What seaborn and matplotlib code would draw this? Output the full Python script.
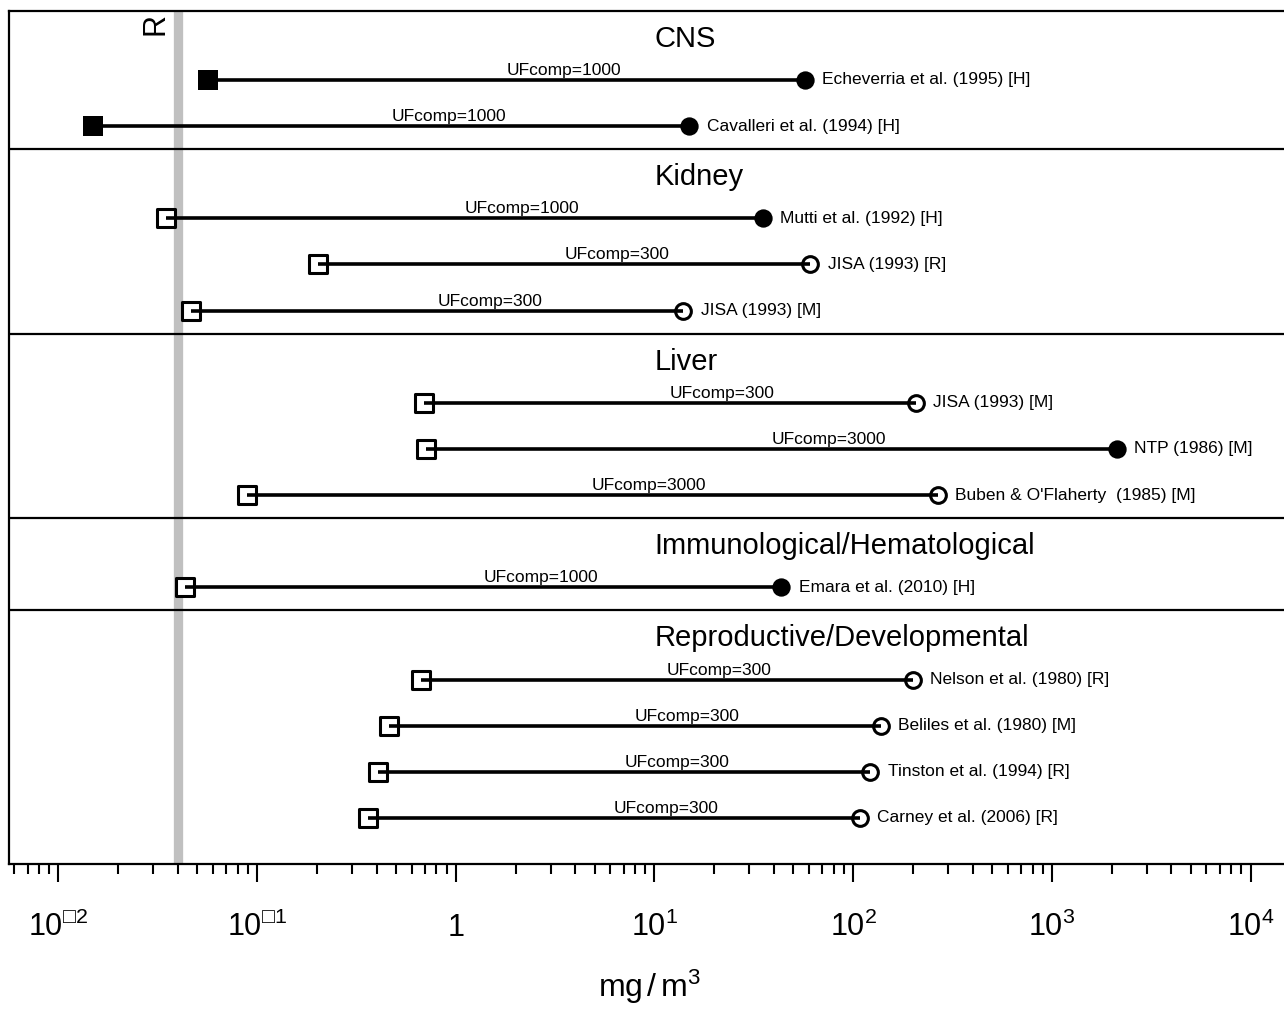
import numpy as np
import pandas as pd
import matplotlib
matplotlib.use("Agg")
import matplotlib.pyplot as plt
import seaborn as sns
from matplotlib.ticker import FixedLocator, LogLocator, NullFormatter

# ---- data -------------------------------------------------------------
groups = ["CNS", "Kidney", "Liver", "Immunological/Hematological",
          "Reproductive/Developmental"]
group_sizes = [2, 3, 3, 1, 4]
studies = ["Echeverria et al. (1995) [H]", "Cavalleri et al. (1994) [H]",
           "Mutti et al. (1992) [H]", "JISA (1993) [R]", "JISA (1993) [M]",
           "JISA (1993) [M]", "NTP (1986) [M]", "Buben & O'Flaherty  (1985) [M]",
           "Emara et al. (2010) [H]",
           "Nelson et al. (1980) [R]", "Beliles et al. (1980) [M]",
           "Tinston et al. (1994) [R]", "Carney et al. (2006) [R]"]
# point of departure (mg/m3) and composite uncertainty factor
pod = [57, 15, 35, 61, 14, 207, 2130, 266, 43.5, 200, 138, 122, 108]
uf_comp = [1000, 1000, 1000, 300, 300, 300, 3000, 3000, 1000, 300, 300, 300, 300]
pod_is_loael = [True, True, True, False, False, False, True, False, True,
                False, False, False, False]
crfc_filled = [True, True, False, False, False, False, False, False, False,
               False, False, False, False]
rfc = 0.04
rfc_label = "R"
tick_values = [1e-2, 1e-1, 1, 1e1, 1e2, 1e3, 1e4]
tick_labels = ["$10^{\u25a12}$", "$10^{\u25a11}$", "$1$", "$10^{1}$",
               "$10^{2}$", "$10^{3}$", "$10^{4}$"]

# ---- layout of rows: one header slot per group, then its studies --------
header_y, row_y = [], []
slot = 0
for n in group_sizes:
    header_y.append(slot)
    row_y.extend(range(slot + 1, slot + 1 + n))
    slot += n + 1
sep_y = [h - 0.5 for h in header_y[1:]]

df = pd.DataFrame({"study": studies, "pod": pod, "uf": uf_comp,
                   "loael": pod_is_loael, "cfill": crfc_filled, "y": row_y})
df["crfc"] = df["pod"] / df["uf"]

# ---- style --------------------------------------------------------------
sns.set_theme(style="white")
plt.rcParams["font.family"] = ["Liberation Sans", "DejaVu Sans"]
plt.rcParams["mathtext.fontset"] = "custom"
plt.rcParams["mathtext.rm"] = "Liberation Sans"
plt.rcParams["mathtext.it"] = "Liberation Sans:italic"
plt.rcParams["mathtext.bf"] = "Liberation Sans:bold"

W_PX, H_PX = 1284, 1010
fig = plt.figure(figsize=(W_PX / 100, H_PX / 100), dpi=100)
left_px, right_px, top_px, bot_px = 9.3, 1290, 10.7, 864
ax = fig.add_axes([left_px / W_PX, 1 - bot_px / H_PX,
                   (right_px - left_px) / W_PX, (bot_px - top_px) / H_PX])

# decade calibration: 1 at 455.7 px, 198.7 px per decade
x0, dec = 455.7, 198.7
ax.set_xscale("log")
ax.set_xlim(10 ** ((left_px - x0) / dec), 10 ** ((right_px - x0) / dec))
ax.set_ylim(18, -0.5)

# reference value band
ax.axvline(rfc, color="#c0c0c0", lw=6.7, zorder=1)
ax.annotate(rfc_label, (rfc, -0.5), xytext=(-5.2, -1.5),
            textcoords="offset points", rotation=90, ha="right", va="top",
            fontsize=22, color="black")

# group separators
for y in sep_y:
    ax.axhline(y, color="black", lw=1.6, zorder=2)

# markers (open ones are white-filled and sit under the connecting line)
open_sq = df[~df["cfill"]]
fill_sq = df[df["cfill"]]
sns.scatterplot(data=open_sq, x="crfc", y="y", marker="s", s=182,
                color="white", edgecolor="black", linewidth=2.2,
                legend=False, zorder=3, ax=ax)
sns.scatterplot(data=fill_sq, x="crfc", y="y", marker="s", s=207,
                color="black", edgecolor="black", linewidth=0,
                legend=False, zorder=5, ax=ax)
open_c = df[~df["loael"]]
fill_c = df[df["loael"]]
sns.scatterplot(data=open_c, x="pod", y="y", marker="o", s=128,
                color="white", edgecolor="black", linewidth=2.2,
                legend=False, zorder=3, ax=ax)
sns.scatterplot(data=fill_c, x="pod", y="y", marker="o", s=174,
                color="black", edgecolor="black", linewidth=0,
                legend=False, zorder=5, ax=ax)

ax.hlines(df["y"], df["crfc"], df["pod"], color="black", lw=2.6, zorder=4)

# annotations
for _, r in df.iterrows():
    mid = np.sqrt(r["crfc"] * r["pod"])
    ax.annotate(f"UFcomp={r['uf']}", (mid, r["y"]), xytext=(0, 3.6),
                textcoords="offset points", ha="left", va="baseline",
                fontsize=12.5, color="black")
    ax.annotate(r["study"], (r["pod"], r["y"]), xytext=(12.5, 0),
                textcoords="offset points", ha="left", va="center",
                fontsize=12.5, color="black")

for name, y in zip(groups, header_y):
    ax.text(10, y + 0.28, name, fontsize=21, ha="left", va="baseline",
            color="black")

# axes decoration
ax.xaxis.set_major_locator(FixedLocator(tick_values))
ax.set_xticklabels(tick_labels)
ax.xaxis.set_minor_locator(LogLocator(base=10, subs=np.arange(2, 10), numticks=100))
ax.xaxis.set_minor_formatter(NullFormatter())
ax.tick_params(axis="x", which="major", direction="out", bottom=True,
               length=12.7, width=1.5, color="black", pad=39.5,
               labelsize=22, labelcolor="black")
ax.tick_params(axis="x", which="minor", direction="out", bottom=True,
               length=7.2, width=1.5, color="black")
for t in ax.get_xticklabels():
    t.set_verticalalignment("baseline")
ax.set_yticks([])
ax.set_ylabel("")
for side in ["left", "top", "bottom", "right"]:
    ax.spines[side].set_color("black")
    ax.spines[side].set_linewidth(1.6)

ax.set_xlabel(r"$\mathrm{mg\,/\,m^3}$", fontsize=23, color="black")
ax.xaxis.set_label_coords(0.5, (bot_px - 968) / (bot_px - top_px))

fig.savefig("out.png", dpi=100)
